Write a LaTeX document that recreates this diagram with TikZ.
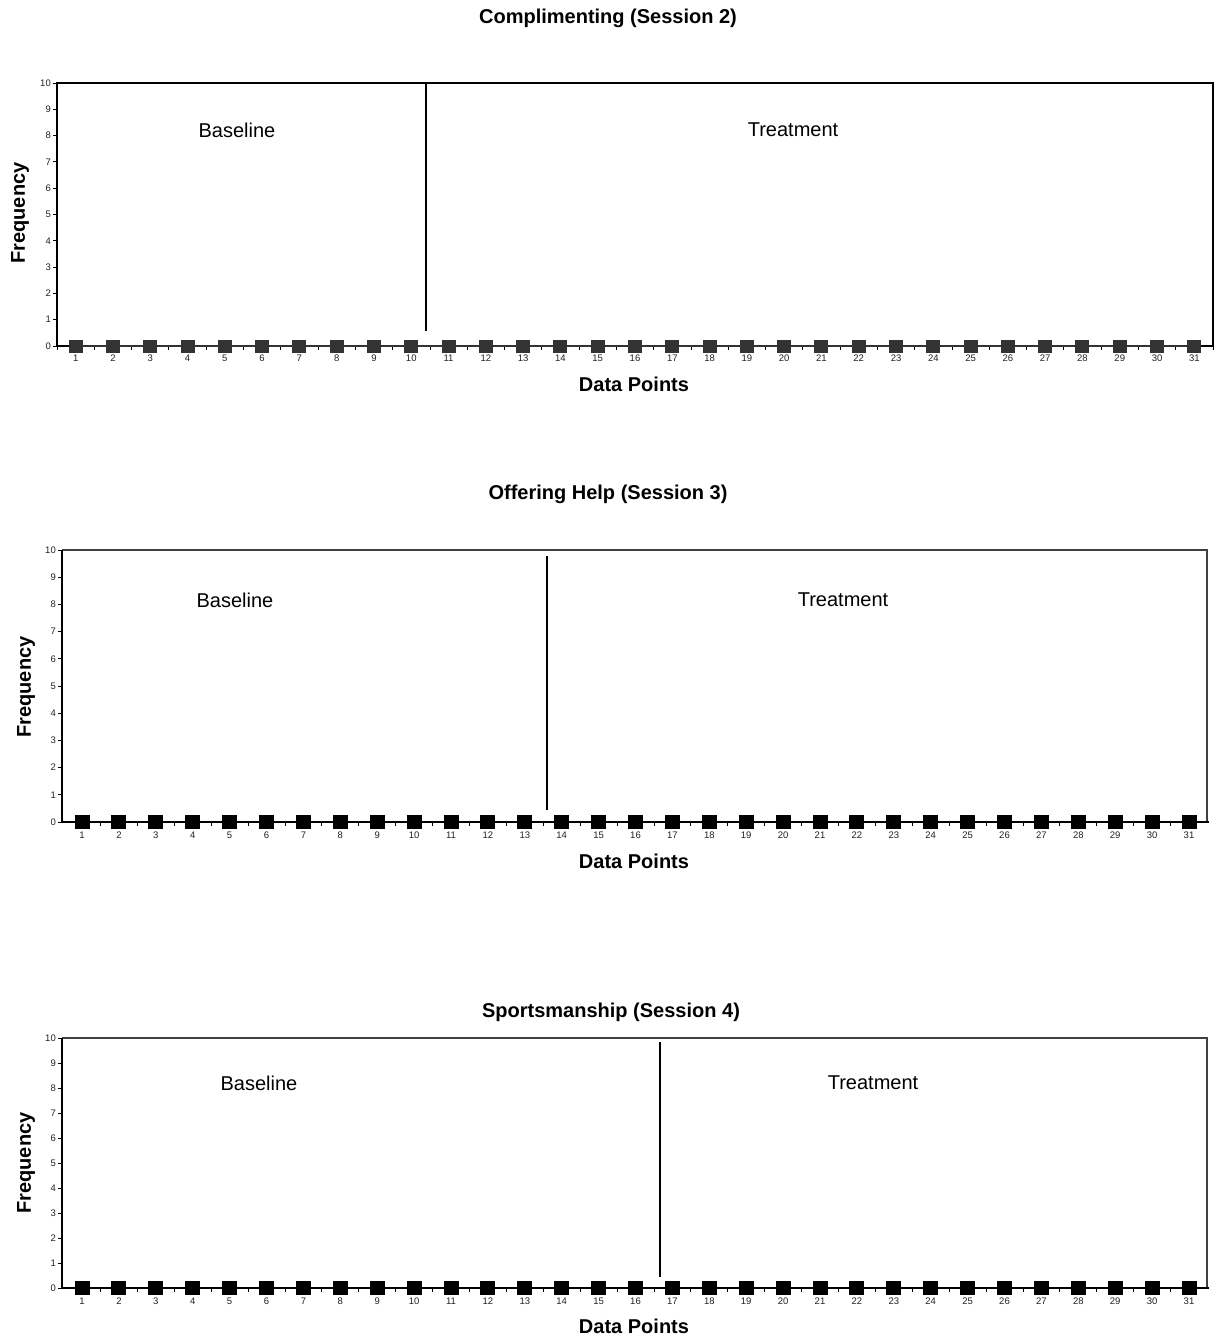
\documentclass[tikz,border=0pt]{standalone}
\usepackage{fontspec}
\setmainfont{Liberation Sans}
\definecolor{mk1}{HTML}{333333}
\definecolor{lbl}{HTML}{222222}
\tikzset{
  title/.style={font=\fontsize{20}{24}\selectfont\bfseries, inner sep=0pt},
  axtitle/.style={font=\fontsize{20}{24}\selectfont\bfseries, inner sep=0pt},
  phasetxt/.style={font=\fontsize{20}{24}\selectfont, inner sep=0pt},
  ylab/.style={font=\fontsize{9.5}{11}\selectfont, text=lbl, inner sep=0pt, anchor=east},
  xlab/.style={font=\fontsize{9.5}{11}\selectfont, text=lbl, inner sep=0pt},
  ticksty/.style={line width=0.8pt, black},
  markerA/.style={fill=mk1, draw=none, minimum width=14pt, minimum height=13pt, inner sep=0pt},
  markerB/.style={fill=black, draw=none, minimum width=15pt, minimum height=14pt, inner sep=0pt},
  seriesA/.style={line width=2.5pt, mk1},
  seriesB/.style={line width=2.2pt, black},
  phaseline/.style={line width=1.8pt, black},
  frameA/.style={line width=2.6pt, black},
  thinframe/.style={line width=1.1pt, black!75},
  axisB/.style={line width=1.8pt, black},
}
\begin{document}
\begin{tikzpicture}[x=1pt, y=-1pt]
\useasboundingbox[fill=white] (0,0) rectangle (1222,1340);

% ================= Chart 1 =================
\node[title] (t1) at (608,18) {Complimenting (Session 2)};
\draw[frameA] (57,83) rectangle (1213,346);
\foreach \v in {0,...,10} {
  \pgfmathsetmacro\yy{346-\v*26.3}
  \draw[ticksty] (53,\yy) -- (57,\yy);
  \node[ylab] (c1y\v) at (51,\yy) {\v};
}
\foreach \i in {0,...,31} {
  \pgfmathsetmacro\xx{57+\i*37.29}
  \draw[ticksty] (\xx,346) -- (\xx,350);
}
\foreach \i in {1,...,31} {
  \pgfmathsetmacro\xx{57+(\i-0.5)*37.29}
  \coordinate (c1p\i) at (\xx,346);
}
\draw[seriesA] (c1p1) -- (c1p31);
\foreach \i in {1,...,31} {
  \node[markerA] (c1m\i) at (c1p\i) {};
  \node[xlab] (c1x\i) at ([yshift=-12.5pt]c1p\i) {\i};
}
\coordinate (c1a) at (426,83);
\coordinate (c1b) at (426,331);
\draw[phaseline] (c1a) -- (c1b);
\node[phasetxt] (c1base) at (237,130) {Baseline};
\node[phasetxt] (c1treat) at (793,130) {Treatment};
\node[axtitle] (c1dp) at (634,384) {Data Points};
\node[axtitle, rotate=90] (c1fq) at (20,213) {Frequency};

% ================= Chart 2 =================
\node[title] (t2) at (608,494) {Offering Help (Session 3)};
\draw[thinframe] (62,550) -- (1207,550) -- (1207,822);
\draw[axisB] (62,550) -- (62,822) -- (1209,822);
\foreach \v in {0,...,10} {
  \pgfmathsetmacro\yy{822-\v*27.2}
  \draw[ticksty] (58,\yy) -- (62,\yy);
  \node[ylab] (c2y\v) at (56,\yy) {\v};
}
\foreach \i in {1,...,30} {
  \pgfmathsetmacro\xx{82+(\i-0.5)*36.9}
  \draw[ticksty] (\xx,822) -- (\xx,826);
}
\foreach \i in {1,...,31} {
  \pgfmathsetmacro\xx{82+(\i-1)*36.9}
  \coordinate (c2p\i) at (\xx,822);
}
\draw[seriesB] (c2p1) -- (c2p31);
\foreach \i in {1,...,31} {
  \node[markerB] (c2m\i) at (c2p\i) {};
  \node[xlab] (c2x\i) at ([yshift=-13pt]c2p\i) {\i};
}
\coordinate (c2a) at (547,556);
\coordinate (c2b) at (547,810);
\draw[phaseline] (c2a) -- (c2b);
\node[phasetxt] (c2base) at (235,600) {Baseline};
\node[phasetxt] (c2treat) at (843,600) {Treatment};
\node[axtitle] (c2dp) at (634,861) {Data Points};
\node[axtitle, rotate=90] (c2fq) at (26,687) {Frequency};

% ================= Chart 3 =================
\node[title] (t3) at (611,1012) {Sportsmanship (Session 4)};
\draw[thinframe] (62,1038) -- (1207,1038) -- (1207,1288);
\draw[axisB] (62,1038) -- (62,1288) -- (1209,1288);
\foreach \v in {0,...,10} {
  \pgfmathsetmacro\yy{1288-\v*25}
  \draw[ticksty] (58,\yy) -- (62,\yy);
  \node[ylab] (c3y\v) at (56,\yy) {\v};
}
\foreach \i in {1,...,30} {
  \pgfmathsetmacro\xx{82+(\i-0.5)*36.9}
  \draw[ticksty] (\xx,1288) -- (\xx,1292);
}
\foreach \i in {1,...,31} {
  \pgfmathsetmacro\xx{82+(\i-1)*36.9}
  \coordinate (c3p\i) at (\xx,1288);
}
\draw[seriesB] (c3p1) -- (c3p31);
\foreach \i in {1,...,31} {
  \node[markerB] (c3m\i) at (c3p\i) {};
  \node[xlab] (c3x\i) at ([yshift=-13pt]c3p\i) {\i};
}
\coordinate (c3a) at (660,1042);
\coordinate (c3b) at (660,1277);
\draw[phaseline] (c3a) -- (c3b);
\node[phasetxt] (c3base) at (259,1083) {Baseline};
\node[phasetxt] (c3treat) at (873,1083) {Treatment};
\node[axtitle] (c3dp) at (634,1326) {Data Points};
\node[axtitle, rotate=90] (c3fq) at (26,1163) {Frequency};
\end{tikzpicture}
\end{document}
